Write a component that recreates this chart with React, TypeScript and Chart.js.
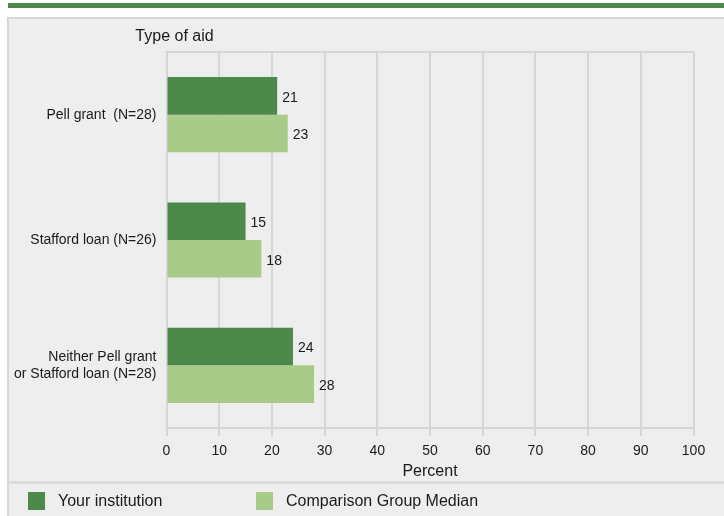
import { useEffect, useRef } from "react";
import { Chart, registerables } from "chart.js";

Chart.register(...registerables);

const categories: (string | string[])[] = [
  "Pell grant  (N=28)",
  "Stafford loan (N=26)",
  ["Neither Pell grant", "or Stafford loan (N=28)"],
];
const yourInstitution = [21, 15, 24];
const comparisonMedian = [23, 18, 28];
const seriesNames = ["Your institution", "Comparison Group Median"];
const xMin = 0;
const xMax = 100;
const xStep = 10;
const yTitle = "Type of aid";
const xTitle = "Percent";

const DARK = "#4e894c";
const LIGHT = "#a9cb89";
const PANEL = "#eeeeee";
const LINE = "#d6d6d6";
const TEXT = "#1a1a1a";
const FONT = '"Liberation Sans", Arial, sans-serif';

const decorPlugin = {
  id: "decor",
  beforeDraw(chart: any) {
    const ctx = chart.ctx as CanvasRenderingContext2D;
    const W = chart.width;
    const H = chart.height;
    ctx.save();
    ctx.fillStyle = "#ffffff";
    ctx.fillRect(0, 0, W, H);
    ctx.fillStyle = DARK;
    ctx.fillRect(8, 3, W - 8, 5);
    ctx.fillStyle = PANEL;
    ctx.fillRect(8, 18, W - 8, H - 18);
    ctx.strokeStyle = LINE;
    ctx.lineWidth = 2;
    ctx.beginPath();
    ctx.moveTo(7, 18);
    ctx.lineTo(W, 18);
    ctx.moveTo(8, 18);
    ctx.lineTo(8, H);
    ctx.moveTo(8, 482.5);
    ctx.lineTo(W, 482.5);
    ctx.stroke();

    const { left, right, top } = chart.chartArea;
    ctx.beginPath();
    ctx.moveTo(left - 1, top);
    ctx.lineTo(right + 1, top);
    ctx.stroke();

    ctx.fillStyle = TEXT;
    ctx.font = `16px ${FONT}`;
    ctx.textAlign = "center";
    ctx.textBaseline = "middle";
    ctx.fillText(yTitle, left + 8, top - 15);

    // legend
    const items = chart.data.datasets.map((d: any) => ({
      label: d.label,
      color: d.backgroundColor,
    }));
    const xs = [28, 256];
    ctx.textAlign = "left";
    items.forEach((it: any, i: number) => {
      ctx.fillStyle = it.color;
      ctx.fillRect(xs[i], 492, 17, 18);
      ctx.fillStyle = TEXT;
      ctx.fillText(it.label, xs[i] + 30, 502);
    });
    ctx.restore();
  },
  afterDatasetsDraw(chart: any) {
    const ctx = chart.ctx as CanvasRenderingContext2D;
    ctx.save();
    ctx.fillStyle = TEXT;
    ctx.font = `14px ${FONT}`;
    ctx.textAlign = "left";
    ctx.textBaseline = "middle";
    chart.data.datasets.forEach((ds: any, di: number) => {
      const meta = chart.getDatasetMeta(di);
      meta.data.forEach((bar: any, i: number) => {
        ctx.fillText(String(ds.data[i]), bar.x + 5, bar.y + 2);
      });
    });
    ctx.restore();
  },
};

export default function App() {
  const ref = useRef<HTMLCanvasElement | null>(null);

  useEffect(() => {
    if (!ref.current) return;
    const chart = new Chart(ref.current, {
      type: "bar",
      data: {
        labels: categories,
        datasets: [
          {
            label: seriesNames[0],
            data: yourInstitution,
            backgroundColor: DARK,
            categoryPercentage: 0.6,
            barPercentage: 1,
          },
          {
            label: seriesNames[1],
            data: comparisonMedian,
            backgroundColor: LIGHT,
            categoryPercentage: 0.6,
            barPercentage: 1,
          },
        ],
      },
      options: {
        indexAxis: "y",
        animation: false,
        responsive: true,
        maintainAspectRatio: false,
        devicePixelRatio: 1,
        layout: { padding: { left: 0, right: 30.5, top: 52, bottom: 0 } },
        plugins: {
          legend: { display: false },
          tooltip: { enabled: false },
        },
        scales: {
          x: {
            type: "linear",
            min: xMin,
            max: xMax,
            ticks: {
              stepSize: xStep,
              color: TEXT,
              font: { family: FONT, size: 14 },
              padding: 7,
              maxRotation: 0,
            },
            grid: {
              color: LINE,
              lineWidth: 2,
              drawTicks: true,
              tickLength: 8,
              tickColor: LINE,
              tickWidth: 2,
            },
            border: { display: true, color: LINE, width: 2 },
            title: {
              display: true,
              text: xTitle,
              color: TEXT,
              font: { family: FONT, size: 16 },
              padding: { top: 0, bottom: 35 },
            },
            afterFit(scale: any) {
              scale.height = 88;
            },
          },
          y: {
            type: "category",
            ticks: {
              color: TEXT,
              font: { family: FONT, size: 14 },
              padding: 10,
            },
            grid: { display: false, drawTicks: false },
            border: { display: false },
            afterFit(scale: any) {
              scale.width = 166.5;
            },
          },
        },
      },
      plugins: [decorPlugin],
    });
    return () => chart.destroy();
  }, []);

  return (
    <div style={{ position: "absolute", left: 0, top: 0, width: 724, height: 516 }}>
      <canvas ref={ref} />
    </div>
  );
}
